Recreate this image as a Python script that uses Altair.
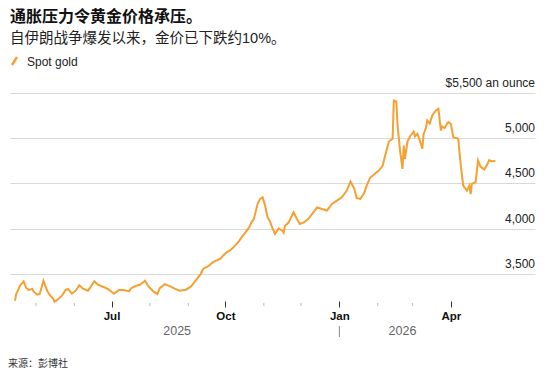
import altair as alt
import pandas as pd

# ---------------- data ----------------
dates = [
    "2025-04-14", "2025-04-15", "2025-04-17", "2025-04-18", "2025-04-21", "2025-04-23",
    "2025-04-25", "2025-04-28", "2025-04-29", "2025-05-02", "2025-05-04", "2025-05-07",
    "2025-05-10", "2025-05-12", "2025-05-15", "2025-05-16", "2025-05-19", "2025-05-22",
    "2025-05-25", "2025-05-27", "2025-05-30", "2025-06-02", "2025-06-05", "2025-06-08",
    "2025-06-12", "2025-06-14", "2025-06-17", "2025-06-20", "2025-06-24", "2025-06-28",
    "2025-07-03", "2025-07-07", "2025-07-11", "2025-07-15", "2025-07-17", "2025-07-21",
    "2025-07-24", "2025-07-28", "2025-07-31", "2025-08-04", "2025-08-07", "2025-08-09",
    "2025-08-13", "2025-08-17", "2025-08-21", "2025-08-25", "2025-08-30", "2025-09-03",
    "2025-09-05", "2025-09-08", "2025-09-11", "2025-09-13", "2025-09-17", "2025-09-21",
    "2025-09-27", "2025-09-29", "2025-10-02", "2025-10-05", "2025-10-08", "2025-10-12",
    "2025-10-14", "2025-10-17", "2025-10-20", "2025-10-22", "2025-10-24", "2025-10-25",
    "2025-10-27", "2025-10-29", "2025-10-31", "2025-11-02", "2025-11-04", "2025-11-06",
    "2025-11-08", "2025-11-10", "2025-11-13", "2025-11-16", "2025-11-17", "2025-11-18",
    "2025-11-21", "2025-11-25", "2025-11-28", "2025-11-30", "2025-12-03", "2025-12-07",
    "2025-12-11", "2025-12-14", "2025-12-18", "2025-12-22", "2025-12-26", "2025-12-30",
    "2026-01-03", "2026-01-07", "2026-01-10", "2026-01-13", "2026-01-15", "2026-01-18",
    "2026-01-21", "2026-01-23", "2026-01-26", "2026-01-29", "2026-01-31", "2026-02-02",
    "2026-02-05", "2026-02-07", "2026-02-10", "2026-02-13", "2026-02-14", "2026-02-16",
    "2026-02-17", "2026-02-19", "2026-02-21", "2026-02-22", "2026-02-23", "2026-02-25",
    "2026-02-27", "2026-03-02", "2026-03-03", "2026-03-05", "2026-03-07", "2026-03-09",
    "2026-03-10", "2026-03-12", "2026-03-13", "2026-03-15", "2026-03-17", "2026-03-20",
    "2026-03-22", "2026-03-24", "2026-03-25", "2026-03-27", "2026-03-29", "2026-03-30",
    "2026-04-01", "2026-04-03", "2026-04-07", "2026-04-09", "2026-04-11", "2026-04-14",
    "2026-04-16", "2026-04-17", "2026-04-18", "2026-04-21", "2026-04-23", "2026-04-25",
    "2026-04-28", "2026-04-30", "2026-05-02", "2026-05-04", "2026-05-07",
]
prices = [
    3203, 3278, 3333, 3369, 3417, 3347,
    3322, 3333, 3306, 3270, 3278, 3425,
    3314, 3270, 3222, 3192, 3222, 3259,
    3325, 3331, 3281, 3314, 3375, 3336,
    3314, 3353, 3419, 3380, 3358, 3333,
    3281, 3322, 3322, 3306, 3342, 3369,
    3380, 3425, 3358, 3303, 3278, 3342,
    3386, 3364, 3336, 3314, 3325, 3358,
    3392, 3444, 3499, 3554, 3585, 3630,
    3668, 3701, 3738, 3762, 3801, 3862,
    3904, 3956, 4011, 4070, 4108, 4166,
    4274, 4329, 4347, 4255, 4125, 4078,
    4006, 3942, 4000, 3978, 3956, 4028,
    4067, 4181, 4100, 4052, 4067, 4108,
    4181, 4236, 4218, 4200, 4274, 4310,
    4347, 4421, 4521, 4443, 4338, 4329,
    4393, 4476, 4565, 4598, 4624, 4642,
    4698, 4808, 4963, 4993, 5417, 5406,
    5141, 4864, 4661, 4919, 4772, 4963,
    5019, 5074, 5019, 5049, 4975, 4883,
    5041, 5118, 5196, 5163, 5251, 5307,
    5325, 5085, 5130, 5113, 5163, 5179,
    5159, 5011, 4993, 4709, 4476, 4421,
    4476, 4382, 4495, 4513, 4753, 4687,
    4653, 4698, 4759, 4745, 4748,
]

y_ticks = [3500, 4000, 4500, 5000, 5500]
y_tick_labels = ["3,500", "4,000", "4,500", "5,000", "$5,500 an ounce"]
y_domain = [3200, 5500]

x_domain = ["2025-04-10", "2026-06-08"]
major_ticks = ["2025-07-01", "2025-10-01", "2026-01-01", "2026-04-01"]
minor_ticks = ["2025-05-01", "2025-06-01", "2025-08-01", "2025-09-01",
               "2025-11-01", "2025-12-01", "2026-02-01", "2026-03-01"]
year_labels = ["2025", "2026"]
year_label_dates = ["2025-08-23", "2026-02-21"]
year_boundary = ["2026-01-01"]

title_text = "通胀压力令黄金价格承压。"
subtitle_text = "自伊朗战争爆发以来，金价已下跌约10%。"
legend_text = "Spot gold"
source_text = "来源：彭博社"

# ---------------- styling ----------------
W, H = 525, 208
FONT = "Liberation Sans, Noto Sans CJK SC, sans-serif"
ORANGE = "#f5a030"


def dt(s):
    y, m, d = (int(p) for p in s.split("-"))
    return alt.DateTime(year=y, month=m, date=d, utc=True)


x_scale = alt.Scale(type="utc", domain=[dt(s) for s in x_domain])
y_scale = alt.Scale(domain=y_domain, nice=False, zero=False)

df = pd.DataFrame({"date": dates, "price": prices})

line = alt.Chart(df).mark_line(color=ORANGE, strokeWidth=2).encode(
    x=alt.X(
        "date:T",
        scale=x_scale,
        axis=alt.Axis(
            values=[dt(s) for s in major_ticks],
            format="%b",
            title=None,
            grid=False,
            domain=False,
            tickColor="#333333",
            tickSize=6,
            labelPadding=3,
            labelFont=FONT,
            labelFontSize=11.5,
            labelFontWeight="bold",
            labelColor="#111111",
        ),
    ),
    y=alt.Y(
        "price:Q",
        scale=y_scale,
        axis=alt.Axis(
            values=y_ticks,
            grid=True,
            gridColor="#d9d9d9",
            gridWidth=1.2,
            labels=False,
            ticks=False,
            domain=False,
            title=None,
        ),
    ),
)

ylab_df = pd.DataFrame({"price": y_ticks, "label": y_tick_labels})
ylabels = alt.Chart(ylab_df).mark_text(
    align="right", baseline="middle", dy=-10, font=FONT, fontSize=12, color="#222222"
).encode(y=alt.Y("price:Q"), x=alt.value(W), text="label:N")

minor_df = pd.DataFrame({"date": minor_ticks})
minor = alt.Chart(minor_df).mark_rule(color="#bbbbbb", strokeWidth=1).encode(
    x=alt.X("date:T"), y=alt.value(H + 2), y2=alt.value(H + 5)
)

year_df = pd.DataFrame({"date": year_label_dates, "label": year_labels})
years = alt.Chart(year_df).mark_text(
    align="center", baseline="middle", font=FONT, fontSize=12.5, color="#666666"
).encode(x=alt.X("date:T"), y=alt.value(H + 30), text="label:N")

sep_df = pd.DataFrame({"date": year_boundary})
sep = alt.Chart(sep_df).mark_rule(color="#888888", strokeWidth=1).encode(
    x=alt.X("date:T"), y=alt.value(H + 25), y2=alt.value(H + 36)
)

title = alt.Chart(pd.DataFrame({"label": [title_text]})).mark_text(
    align="left", baseline="middle", font=FONT, fontSize=16, fontWeight="bold", color="#111111"
).encode(x=alt.value(0), y=alt.value(-76), text="label:N")

subtitle = alt.Chart(pd.DataFrame({"label": [subtitle_text]})).mark_text(
    align="left", baseline="middle", font=FONT, fontSize=14.5, color="#222222"
).encode(x=alt.value(0), y=alt.value(-54), text="label:N")

legend_label = alt.Chart(pd.DataFrame({"label": [legend_text]})).mark_text(
    align="left", baseline="middle", font=FONT, fontSize=12, color="#222222"
).encode(x=alt.value(17), y=alt.value(-31), text="label:N")

legend_symbol = alt.Chart(pd.DataFrame({"label": [legend_text]})).mark_rule(
    color=ORANGE, strokeWidth=2.5
).encode(x=alt.value(2), x2=alt.value(7), y=alt.value(-28), y2=alt.value(-36))

source = alt.Chart(pd.DataFrame({"label": [source_text]})).mark_text(
    align="left", baseline="middle", font=FONT, fontSize=10, color="#333333"
).encode(x=alt.value(-2), y=alt.value(271), text="label:N")

chart = (
    alt.layer(line, ylabels, minor, years, sep, title, subtitle, legend_label, legend_symbol, source)
    .properties(
        width=W,
        height=H,
        autosize=alt.AutoSizeParams(type="none"),
        padding={"left": 2, "top": 85, "right": 8, "bottom": 70},
        background="white",
    )
    .configure_view(stroke=None)
)

chart.save("out.html", embed_options={"renderer": "svg", "actions": False})
